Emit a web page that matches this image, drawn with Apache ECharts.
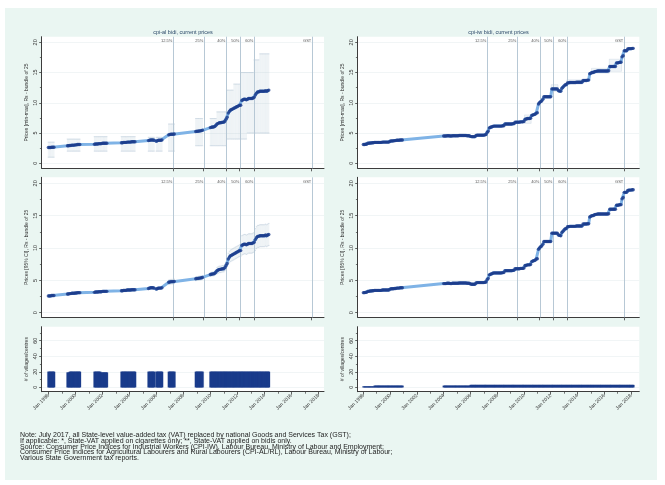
<!DOCTYPE html>
<html><head><meta charset="utf-8">
<script src="https://cdn.jsdelivr.net/npm/echarts@6/dist/echarts.min.js"></script>
<style>
html,body{margin:0;padding:0;background:#fff;}
#wrap{position:relative;width:665px;height:485px;}
#bg{position:absolute;left:5px;top:8px;width:652px;height:472px;background:#eaf6f2;}
#c{position:absolute;left:0;top:0;width:665px;height:485px;}
</style>
</head><body><div id="wrap"><div id="bg"></div><div id="c"></div></div>
<script>
// ---------------- DATA ----------------
const panelTitles = ['cpi-al bidi, current prices', 'cpi-iw bidi, current prices'];
const taxDates = ['2007-04', '2009-07', '2011-03', '2012-03', '2013-04', '2017-07'];
const taxLabels = ['12.5%', '25%', '40%', '50%', '60%', 'GST'];
const xTickLabels = ['Jan 1998','Jan 2000','Jan 2002','Jan 2004','Jan 2006','Jan 2008','Jan 2010','Jan 2012','Jan 2014','Jan 2016','Jan 2018'];
const xMinorYears = [1999,2001,2003,2005,2007,2009,2011,2013,2015,2017];
const priceTicks = [0, 5, 10, 15, 20];
const priceMinorTicks = [2.5, 7.5, 12.5, 17.5];
const countTicks = [0, 20, 40, 60];
const countMinorTicks = [10, 30, 50, 70];

// CPI-AL: observed month spans
const alSpans = [['1998-01','1998-06'],['1999-06','2000-05'],['2001-06','2002-05'],['2003-06','2004-06'],
  ['2005-06','2005-11'],['2006-01','2006-06'],['2006-12','2007-05'],['2008-12','2009-06'],['2010-01','2014-05']];
const alPrice = [
  2.6,2.6,2.6,2.65,2.65,2.65,
  2.9,2.9,2.95,2.95,3.0,3.0,3.0,3.05,3.05,3.1,3.1,3.1,
  3.15,3.2,3.2,3.2,3.25,3.25,3.25,3.3,3.3,3.3,3.3,3.3,
  3.4,3.4,3.45,3.45,3.45,3.5,3.5,3.5,3.5,3.55,3.55,3.55,3.55,
  3.75,3.8,3.85,3.85,3.85,3.8,
  3.65,3.75,3.8,3.8,3.8,3.85,
  4.7,4.75,4.8,4.8,4.8,4.85,
  5.25,5.3,5.3,5.35,5.35,5.4,5.45,
  5.9,5.95,6.0,6.0,6.1,6.3,6.5,6.6,6.7,6.7,6.75,6.8,
  6.8,7.0,7.3,7.6,8.3,8.6,8.8,8.9,9.0,9.1,9.2,9.3,
  9.4,9.5,9.6,9.6,10.4,10.5,10.6,10.6,10.5,10.6,10.7,10.7,
  10.7,10.7,10.8,10.9,11.3,11.6,11.8,11.8,11.9,11.9,11.9,11.9,
  11.9,12.0,11.9,12.0,12.1];
const alMin = [
  1,1,1,1,1,1,
  2,2,2,2,2,2,2,2,2,2,2,2,
  2,2,2,2,2,2,2,2,2,2,2,2,
  2,2,2,2,2,2,2,2,2,2,2,2,2,
  2,2,2,2,2,2,
  2,2,2,2,2,2,
  2,2,2,2,2,2,
  2.9,2.9,2.9,2.9,2.9,2.9,2.9,
  2.9,2.9,2.9,2.9,2.9,2.9,2.9,2.9,2.9,2.9,2.9,2.9,
  2.9,2.9,2.9,4,4,4,4,4,4,4,4,4,
  4,4,4,4,4,4,4,4,4,5,5,5,
  5,5,5,5,5,5,5,5,5,5,5,5,
  5,5,5,5,5];
const alMax = [
  3.5,3.5,3.5,3.5,3.5,3.5,
  4,4,4,4,4,4,4,4,4,4,4,4,
  4.4,4.4,4.4,4.4,4.4,4.4,4.4,4.4,4.4,4.4,4.4,4.4,
  4.4,4.4,4.4,4.4,4.4,4.4,4.4,4.4,4.4,4.4,4.4,4.4,4.4,
  4.3,4.3,4.3,4.3,4.3,4.3,
  4.3,4.3,4.3,4.3,4.3,4.3,
  6.5,6.5,6.5,6.5,6.5,6.5,
  7.4,7.4,7.4,7.4,7.4,7.4,7.4,
  7.4,7.4,7.4,7.4,7.4,7.4,8.5,8.5,8.5,8.5,8.5,8.5,
  8.5,8.5,8.5,12.1,12.1,12.1,12.1,12.1,12.1,13.1,13.1,13.1,
  13.1,13.1,13.1,15,15,15,15,15,15,15,15,15,
  15,15,15,17.1,17.1,17.1,17.1,17.1,18.1,18.1,18.1,18.1,
  18.1,18.1,18.1,18.1,18.1];
const alLo = [
  2.4,2.4,2.4,2.45,2.45,2.45,
  2.75,2.75,2.8,2.8,2.85,2.85,2.85,2.9,2.9,2.95,2.95,2.95,
  3.0,3.05,3.05,3.05,3.1,3.1,3.1,3.15,3.15,3.15,3.15,3.15,
  3.2,3.2,3.25,3.25,3.25,3.3,3.3,3.3,3.3,3.35,3.35,3.35,3.35,
  3.55,3.6,3.65,3.65,3.65,3.6,
  3.45,3.55,3.6,3.6,3.6,3.65,
  4.35,4.4,4.45,4.45,4.45,4.5,
  4.95,5.0,5.0,5.05,5.05,5.1,5.15,
  5.6,5.65,5.7,5.7,5.8,6.0,6.0,6.1,6.2,6.2,6.25,6.3,
  6.3,6.5,6.8,7.1,7.4,7.7,7.9,8.0,8.1,8.2,8.3,8.4,
  8.5,8.6,8.7,8.7,8.9,9.0,9.1,9.1,9.0,9.1,9.2,9.2,
  9.2,9.2,9.3,9.4,9.6,9.9,10.1,10.1,10.2,10.2,10.2,10.2,
  10.2,10.3,10.2,10.3,10.4];
const alHi = [
  2.8,2.8,2.8,2.85,2.85,2.85,
  3.05,3.05,3.1,3.1,3.15,3.15,3.15,3.2,3.2,3.25,3.25,3.25,
  3.3,3.35,3.35,3.35,3.4,3.4,3.4,3.45,3.45,3.45,3.45,3.45,
  3.6,3.6,3.65,3.65,3.65,3.7,3.7,3.7,3.7,3.75,3.75,3.75,3.75,
  3.95,4.0,4.05,4.05,4.05,4.0,
  3.85,3.95,4.0,4.0,4.0,4.05,
  5.05,5.1,5.15,5.15,5.15,5.2,
  5.55,5.6,5.6,5.65,5.65,5.7,5.75,
  6.2,6.25,6.3,6.3,6.4,6.6,7.0,7.1,7.2,7.2,7.25,7.3,
  7.3,7.5,7.8,8.1,9.2,9.5,9.7,9.8,9.9,10.0,10.1,10.2,
  10.3,10.4,10.5,10.5,11.9,12.0,12.1,12.1,12.0,12.1,12.2,12.2,
  12.2,12.2,12.3,12.4,13.0,13.3,13.5,13.5,13.6,13.6,13.6,13.6,
  13.6,13.7,13.6,13.7,13.8];
const alN = [
  20,20,20,20,20,20,
  19,19,20,20,20,20,20,20,20,20,20,20,
  20,20,20,20,20,20,19,19,19,19,19,19,
  20,20,20,20,20,20,20,20,20,20,20,20,20,
  20,20,20,20,20,20,
  20,20,20,20,20,20,
  20,20,20,20,20,20,
  20,20,20,20,20,20,20,
  20,20,20,20,20,20,20,20,20,20,20,20,
  20,20,20,20,20,20,20,20,20,20,20,20,
  20,20,20,20,20,20,20,20,20,20,20,20,
  20,20,20,20,20,20,20,20,20,20,20,20,
  20,20,20,20,20];

// CPI-IW: observed month spans
const iwSpans = [['1998-01','2000-12'],['2004-01','2018-03']];
const iwPrice = [
  3.1,3.1,3.15,3.15,3.3,3.3,3.35,3.35,3.4,3.4,3.45,3.45,
  3.45,3.45,3.45,3.45,3.45,3.5,3.5,3.5,3.5,3.5,3.5,3.5,
  3.65,3.7,3.7,3.7,3.75,3.75,3.8,3.8,3.8,3.85,3.85,3.85,
  4.5,4.5,4.5,4.55,4.55,4.55,4.5,4.5,4.55,4.55,4.55,4.55,
  4.55,4.55,4.6,4.6,4.6,4.6,4.6,4.6,4.6,4.55,4.55,4.55,
  4.45,4.4,4.4,4.4,4.4,4.6,4.65,4.65,4.65,4.65,4.65,4.65,
  4.65,4.7,4.75,5.1,5.3,5.85,5.95,6.0,6.1,6.15,6.15,6.15,
  6.15,6.15,6.15,6.15,6.15,6.2,6.2,6.5,6.5,6.5,6.5,6.5,
  6.5,6.5,6.55,6.55,6.8,6.8,6.8,6.8,6.8,6.85,6.85,6.85,
  6.9,7.3,7.3,7.4,7.4,7.4,7.45,7.9,8.0,8.05,8.1,8.3,
  8.35,9.8,10.0,10.2,10.3,10.6,11.0,11.0,11.0,11.0,11.0,11.0,
  11.0,12.3,12.3,12.3,12.3,12.3,12.3,12.0,11.95,11.9,12.4,12.6,
  12.8,13.0,13.0,13.3,13.3,13.35,13.35,13.35,13.35,13.35,13.35,13.4,
  13.4,13.4,13.4,13.4,13.4,13.7,13.7,13.7,13.7,13.75,13.75,14.8,
  14.9,15.0,15.0,15.1,15.2,15.2,15.25,15.25,15.25,15.25,15.25,15.25,
  15.25,15.25,15.25,15.25,15.3,16.0,16.0,16.0,16.0,16.0,16.0,16.6,
  16.6,16.65,16.7,16.7,17.6,17.8,18.6,18.6,18.6,18.9,18.95,18.95,
  18.95,19.0,19.0];
const iwN = [
  1,1,1,1,1,1,1,1,1,1,2,2,
  2,2,2,2,2,2,2,2,2,2,2,2,
  2,2,2,2,2,2,2,2,2,2,2,2,
  2,2,2,2,2,2,2,2,2,2,2,2,
  2,2,2,2,2,2,2,2,2,2,2,2,
  3,3,3,3,3,3,3,3,3,3,3,3,
  3,3,3,3,3,3,3,3,3,3,3,3,
  3,3,3,3,3,3,3,3,3,3,3,3,
  3,3,3,3,3,3,3,3,3,3,3,3,
  3,3,3,3,3,3,3,3,3,3,3,3,
  3,3,3,3,3,3,3,3,3,3,3,3,
  3,3,3,3,3,3,3,3,3,3,3,3,
  3,3,3,3,3,3,3,3,3,3,3,3,
  3,3,3,3,3,3,3,3,3,3,3,3,
  3,3,3,3,3,3,3,3,3,3,3,3,
  3,3,3,3,3,3,3,3,3,3,3,3,
  3,3,3,3,3,3,3,3,3,3,3,3,
  3,3,3];
const iwRangeFrom = ['2010-02','2012-02','2013-04','2015-02','2016-06'];
const iwRangeTo   = ['2010-07','2012-07','2014-05','2016-05','2017-04'];
const iwRangeMin  = [6.6, 11.9, 13.1, 14.9, 15.2];
const iwRangeMax  = [8.0, 13.0, 13.8, 15.7, 17.2];

const noteLines = [
  'Note: July 2017, all State-level value-added tax (VAT) replaced by national Goods and Services Tax (GST);',
  'If applicable: *, State-VAT applied on cigarettes only; **, State-VAT applied on bidis only.',
  'Source: Consumer Price Indices for Industrial Workers (CPI-IW), Labour Bureau, Ministry of Labour and Employment;',
  'Consumer Price Indices for Agricultural Labourers and Rural Labourers (CPI-AL/RL), Labour Bureau, Ministry of Labour;',
  'Various State Government tax reports.'
];

// ---------------- HELPERS ----------------
const FONT = '"Liberation Sans", Arial, Helvetica, sans-serif';
const toTs = s => { const p = s.split('-').map(Number); return Date.UTC(p[0], p[1] - 1, 1); };
function expand(spans) {
  const out = [];
  spans.forEach(([a, b]) => {
    let [y, m] = a.split('-').map(Number);
    const [y2, m2] = b.split('-').map(Number);
    while (y < y2 || (y === y2 && m <= m2)) { out.push(Date.UTC(y, m - 1, 1)); m++; if (m > 12) { m = 1; y++; } }
  });
  return out;
}
const alTs = expand(alSpans);
const iwTs = expand(iwSpans);
const HALF = 15.2 * 86400000;
const taxTs = taxDates.map(toTs);
const majorX = xTickLabels.map(s => Date.UTC(+s.split(' ')[1], 0, 1));
const minorX = xMinorYears.map(y => Date.UTC(y, 0, 1));

const DARK = '#1b3c8c', LIGHT = '#7fb3e6';
const AXC = '#3c3c3c';

const cols = [
  {left: 41.7, width: 282.3, min: Date.UTC(1997, 6, 5), max: Date.UTC(2018, 5, 2)},
  {left: 357.7, width: 281.6, min: Date.UTC(1997, 6, 31), max: Date.UTC(2018, 7, 14)}
];
const rows = [
  {top: 36.7, height: 131.6, min: -0.83, max: 20.93},
  {top: 177.3, height: 140, min: -0.71, max: 20.93},
  {top: 326.7, height: 65, min: -5.67, max: 78}
];
const yNames = [
  ['Prices [min-max], Rs - bundle of 25', 'Prices [min-max], Rs - bundle of 25'],
  ['Prices [95% CI], Rs - bundle of 25', 'Prices [95% CI], Rs - bundle of 25'],
  ['# of villages/centres', '# of villages/centres']
];

const grid = [], xAxis = [], yAxis = [], series = [];
for (let r = 0; r < 3; r++) for (let c = 0; c < 2; c++) {
  const gi = r * 2 + c;
  grid.push({left: cols[c].left, top: rows[r].top, width: cols[c].width, height: rows[r].height,
    show: true, backgroundColor: '#ffffff', borderWidth: 0, containLabel: false});
  const bottom = r === 2;
  xAxis.push({type: 'value', gridIndex: gi, position: 'bottom', min: cols[c].min, max: cols[c].max, scale: true,
    axisLine: {show: true, onZero: false, lineStyle: {color: AXC, width: 1}},
    axisTick: {show: true, customValues: bottom ? majorX : taxTs, length: 3, lineStyle: {color: AXC, width: 0.8}},
    axisLabel: bottom ? {show: true, customValues: majorX, rotate: 45, fontSize: 5, margin: 3, color: '#333', fontFamily: FONT,
      formatter: v => 'Jan ' + new Date(v).getUTCFullYear()} : {show: false},
    splitLine: {show: false}});
  const ticks = bottom ? countTicks : priceTicks;
  yAxis.push({type: 'value', gridIndex: gi, position: 'left', min: rows[r].min, max: rows[r].max,
    name: yNames[r][c], nameLocation: 'middle', nameGap: 13, nameRotate: 90,
    nameTextStyle: {fontSize: 5, color: '#333', fontFamily: FONT},
    axisLine: {show: true, onZero: false, lineStyle: {color: AXC, width: 1}},
    axisTick: {show: true, customValues: ticks, length: 2.5, lineStyle: {color: AXC, width: 0.8}},
    axisLabel: {show: true, customValues: ticks, rotate: 90, fontSize: 5.5, margin: 3, color: '#333', fontFamily: FONT},
    splitLine: {show: true, lineStyle: {color: '#eef2f4', width: 0.8}}});
}
// minor tick overlays
for (let r = 0; r < 3; r++) for (let c = 0; c < 2; c++) {
  const gi = r * 2 + c;
  yAxis.push({type: 'value', gridIndex: gi, position: 'left', offset: 0, min: rows[r].min, max: rows[r].max,
    axisLine: {show: false, onZero: false}, axisLabel: {show: false}, splitLine: {show: false},
    axisTick: {show: true, customValues: r === 2 ? countMinorTicks : priceMinorTicks, length: 1.8, lineStyle: {color: AXC, width: 0.7}}});
}
for (let c = 0; c < 2; c++) {
  xAxis.push({type: 'value', gridIndex: 4 + c, position: 'bottom', offset: 0, min: cols[c].min, max: cols[c].max, scale: true,
    axisLine: {show: false, onZero: false}, axisLabel: {show: false}, splitLine: {show: false},
    axisTick: {show: true, customValues: minorX, length: 2, lineStyle: {color: AXC, width: 0.7}}});
}

function spikes(gi, ts, lo, hi) {
  return {type: 'custom', xAxisIndex: gi, yAxisIndex: gi, silent: true, z: 1,
    encode: {x: 0, y: [1, 2]},
    data: ts.map((t, i) => [t, lo[i], hi[i]]),
    renderItem(params, api) {
      const a = api.coord([api.value(0), api.value(2)]);
      const b = api.coord([api.value(0), api.value(1)]);
      return {type: 'group', children: [
        {type: 'line', shape: {x1: a[0], y1: a[1], x2: b[0], y2: b[1]}, style: {stroke: 'rgba(160,184,204,0.24)', lineWidth: 0.8}},
        {type: 'line', shape: {x1: a[0] - 0.7, y1: a[1], x2: a[0] + 0.7, y2: a[1]}, style: {stroke: 'rgba(150,176,198,0.55)', lineWidth: 0.6}},
        {type: 'line', shape: {x1: b[0] - 0.7, y1: b[1], x2: b[0] + 0.7, y2: b[1]}, style: {stroke: 'rgba(150,176,198,0.55)', lineWidth: 0.6}}
      ]};
    }};
}
function rangeBoxes(gi) {
  return {type: 'custom', xAxisIndex: gi, yAxisIndex: gi, silent: true, z: 1,
    encode: {x: [0, 1], y: [2, 3]},
    data: iwRangeFrom.map((f, i) => [toTs(f) - HALF, toTs(iwRangeTo[i]) + HALF, iwRangeMin[i], iwRangeMax[i]]),
    renderItem(params, api) {
      const a = api.coord([api.value(0), api.value(3)]);
      const b = api.coord([api.value(1), api.value(2)]);
      return {type: 'rect', shape: {x: a[0], y: a[1], width: b[0] - a[0], height: b[1] - a[1]},
        style: {fill: 'rgba(200,214,226,0.25)', stroke: 'rgba(160,184,204,0.4)', lineWidth: 0.6}};
    }};
}
function taxLines(gi) {
  return {type: 'custom', xAxisIndex: gi, yAxisIndex: gi, silent: true, z: 2,
    encode: {x: 0, y: 1},
    data: taxTs.map((t, i) => [t, 1]),
    renderItem(params, api) {
      const cs = params.coordSys;
      const x = Math.round(api.coord([api.value(0), 0])[0]) + 0.5;
      return {type: 'group', children: [
        {type: 'line', shape: {x1: x, y1: cs.y, x2: x, y2: cs.y + cs.height}, style: {stroke: '#b7c8d5', lineWidth: 1}},
        {type: 'text', x: x - 1.2, y: cs.y + 4.5, style: {text: taxLabels[params.dataIndex], align: 'right', verticalAlign: 'middle',
          fontSize: 4, fill: '#555', fontFamily: FONT}}
      ]};
    }};
}
function priceLine(gi, ts, vals) {
  return {type: 'line', xAxisIndex: gi, yAxisIndex: gi, silent: true, z: 3, symbol: 'none',
    data: ts.map((t, i) => [t, vals[i]]), lineStyle: {color: LIGHT, width: 3}};
}
function priceDots(gi, ts, vals) {
  return {type: 'scatter', xAxisIndex: gi, yAxisIndex: gi, silent: true, z: 4, symbol: 'circle', symbolSize: 3.4,
    data: ts.map((t, i) => [t, vals[i]]), itemStyle: {color: DARK}};
}
function countBars(gi, ts, n) {
  return {type: 'custom', xAxisIndex: gi, yAxisIndex: gi, silent: true, z: 3,
    encode: {x: 0, y: 1},
    data: ts.map((t, i) => [t, n[i]]),
    renderItem(params, api) {
      const a = api.coord([api.value(0) - HALF, api.value(1)]);
      const b = api.coord([api.value(0) + HALF, 0]);
      return {type: 'rect', shape: {x: a[0] - 0.3, y: a[1], width: b[0] - a[0] + 0.9, height: b[1] - a[1]},
        style: {fill: DARK, stroke: DARK, lineWidth: 0.3}};
    }};
}

series.push(spikes(0, alTs, alMin, alMax), taxLines(0), priceLine(0, alTs, alPrice), priceDots(0, alTs, alPrice));
series.push(rangeBoxes(1), taxLines(1), priceLine(1, iwTs, iwPrice), priceDots(1, iwTs, iwPrice));
series.push(spikes(2, alTs, alLo, alHi), taxLines(2), priceLine(2, alTs, alPrice), priceDots(2, alTs, alPrice));
series.push(taxLines(3), priceLine(3, iwTs, iwPrice), priceDots(3, iwTs, iwPrice));
series.push(countBars(4, alTs, alN), countBars(5, iwTs, iwN));

const graphic = [
  {type: 'text', x: 183, y: 32, style: {text: panelTitles[0], align: 'center', verticalAlign: 'middle', fontSize: 5.5, fill: '#2a4868', fontFamily: FONT}},
  {type: 'text', x: 498.5, y: 32, style: {text: panelTitles[1], align: 'center', verticalAlign: 'middle', fontSize: 5.5, fill: '#2a4868', fontFamily: FONT}},
  {type: 'text', x: 20, y: 432, style: {text: noteLines.join('\n'), fontSize: 7, lineHeight: 5.85, fill: '#222', fontFamily: FONT}}
];

const chart = echarts.init(document.getElementById('c'), null, {renderer: 'canvas', width: 665, height: 485});
chart.setOption({animation: false, backgroundColor: 'transparent', textStyle: {fontFamily: FONT},
  grid, xAxis, yAxis, series, graphic});
</script>
</body></html>
